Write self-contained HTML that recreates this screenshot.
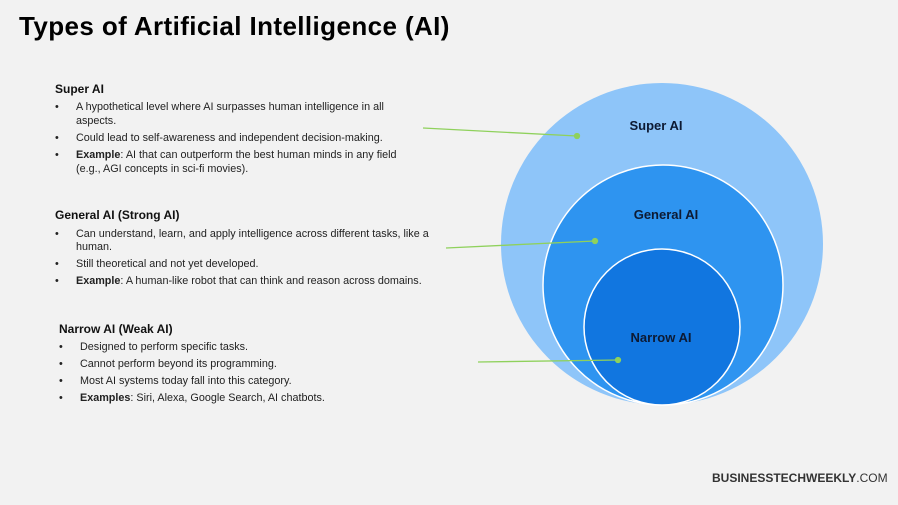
<!DOCTYPE html>
<html><head><meta charset="utf-8"><style>
body{margin:0;width:898px;height:505px;background:#f2f2f2;font-family:"Liberation Sans",sans-serif;position:relative;overflow:hidden;color:#111}
.t{position:absolute;white-space:nowrap}
h1{position:absolute;left:19px;top:11px;margin:0;font-size:26px;letter-spacing:0.4px;font-weight:bold;color:#000}
.h{font-size:12px;font-weight:bold}
.b{font-size:10.8px;color:#222}
</style></head><body>
<h1>Types of Artificial Intelligence (AI)</h1>
<svg width="898" height="505" style="position:absolute;left:0;top:0">
<circle cx="662" cy="244" r="161" fill="#8ec5f9"/>
<circle cx="663" cy="285" r="120" fill="#2e94f0" stroke="#fff" stroke-width="1.5"/>
<circle cx="662" cy="327" r="78" fill="#1176e0" stroke="#fff" stroke-width="1.5"/>
<g stroke="#8fd15c" stroke-width="1.3" fill="#8fd15c">
<line x1="423" y1="128" x2="577" y2="136"/><circle cx="577" cy="136" r="2.5"/>
<line x1="446" y1="248" x2="595" y2="241"/><circle cx="595" cy="241" r="2.5"/>
<line x1="478" y1="362" x2="618" y2="360"/><circle cx="618" cy="360" r="2.5"/>
</g>
<g font-family="Liberation Sans" font-weight="bold" font-size="13" fill="#0d1a33" text-anchor="middle">
<text x="656" y="130">Super AI</text>
<text x="666" y="219">General AI</text>
<text x="661" y="342">Narrow AI</text>
</g>
</svg>
<div class="t h" style="left:55px;top:82px">Super AI</div>
<div class="t b" style="left:55px;top:101px">•</div><div class="t b" style="left:76px;top:101px">A hypothetical level where AI surpasses human intelligence in all</div>
<div class="t b" style="left:76px;top:115px">aspects.</div>
<div class="t b" style="left:55px;top:132px">•</div><div class="t b" style="left:76px;top:132px">Could lead to self-awareness and independent decision-making.</div>
<div class="t b" style="left:55px;top:149px">•</div><div class="t b" style="left:76px;top:149px"><b>Example</b>: AI that can outperform the best human minds in any field</div>
<div class="t b" style="left:76px;top:163px">(e.g., AGI concepts in sci-fi movies).</div>

<div class="t h" style="left:55px;top:208px">General AI (Strong AI)</div>
<div class="t b" style="left:55px;top:228px">•</div><div class="t b" style="left:76px;top:228px">Can understand, learn, and apply intelligence across different tasks, like a</div>
<div class="t b" style="left:76px;top:241px">human.</div>
<div class="t b" style="left:55px;top:258px">•</div><div class="t b" style="left:76px;top:258px">Still theoretical and not yet developed.</div>
<div class="t b" style="left:55px;top:275px">•</div><div class="t b" style="left:76px;top:275px"><b>Example</b>: A human-like robot that can think and reason across domains.</div>

<div class="t h" style="left:59px;top:322px">Narrow AI (Weak AI)</div>
<div class="t b" style="left:59px;top:341px">•</div><div class="t b" style="left:80px;top:341px">Designed to perform specific tasks.</div>
<div class="t b" style="left:59px;top:358px">•</div><div class="t b" style="left:80px;top:358px">Cannot perform beyond its programming.</div>
<div class="t b" style="left:59px;top:375px">•</div><div class="t b" style="left:80px;top:375px">Most AI systems today fall into this category.</div>
<div class="t b" style="left:59px;top:392px">•</div><div class="t b" style="left:80px;top:392px"><b>Examples</b>: Siri, Alexa, Google Search, AI chatbots.</div>

<div class="t" style="left:712px;top:471px;font-size:12px;color:#333"><b>BUSINESSTECHWEEKLY</b>.COM</div>
</body></html>
